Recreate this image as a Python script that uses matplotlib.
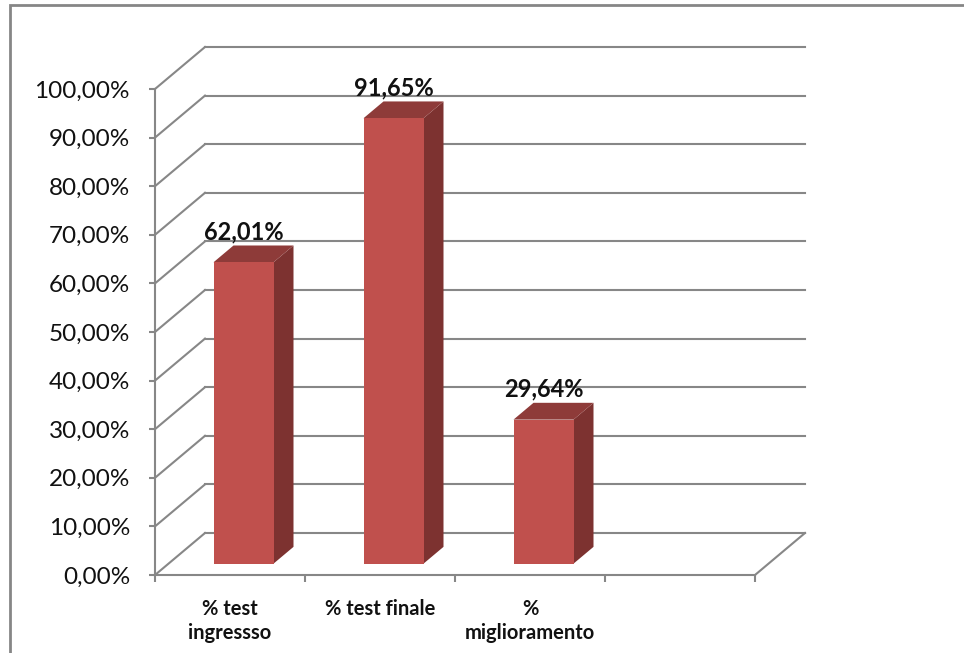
import numpy as np
import matplotlib.pyplot as plt
from matplotlib.patches import Polygon, Rectangle
from matplotlib.ticker import FuncFormatter

plt.rcParams['font.family'] = ['Lato', 'DejaVu Sans']

categories = ["% test\ningressso", "% test finale", "%\nmiglioramento"]
values = [62.01, 91.65, 29.64]
value_labels = ["62,01%", "91,65%", "29,64%"]
yticks = np.arange(0, 101, 10)
n_slots = 4  # excel kept an empty fourth slot

# fake 3d: offset of the back wall in data units
DX = 50 / 150.0
DY = 42 / 4.86
Z0, Z1 = 0.27, 0.67
BW = 0.4
GRID = '#878787'

fig = plt.figure(figsize=(9.64, 6.53), dpi=100)
ax = fig.add_axes([155 / 964, 78 / 653, 600 / 964, 486 / 653])
ax.set_xlim(0, n_slots)
ax.set_ylim(0, 100)

def pt(x, y, z):
    return (x + z * DX, y + z * DY)

# back wall gridlines and left wall diagonals
for v in yticks:
    ax.plot([pt(0, v, 1)[0], pt(n_slots, v, 1)[0]], [pt(0, v, 1)[1]] * 2,
            color=GRID, lw=1.5, clip_on=False, zorder=1)
    ax.plot([0, DX], [v, v + DY], color=GRID, lw=1.5, clip_on=False, zorder=1)
# floor right edge
ax.plot([n_slots, n_slots + DX], [0, DY], color=GRID, lw=1.5, clip_on=False, zorder=1)

# bars
for i, v in enumerate(values):
    x0 = i + 0.5 - BW / 2
    x1 = x0 + BW
    front = [pt(x0, 0, Z0), pt(x1, 0, Z0), pt(x1, v, Z0), pt(x0, v, Z0)]
    side = [pt(x1, 0, Z0), pt(x1, 0, Z1), pt(x1, v, Z1), pt(x1, v, Z0)]
    top = [pt(x0, v, Z0), pt(x1, v, Z0), pt(x1, v, Z1), pt(x0, v, Z1)]
    ax.add_patch(Polygon(side, closed=True, fc='#7D3230', ec='none', clip_on=False, zorder=3))
    ax.add_patch(Polygon(top, closed=True, fc='#8E3B39', ec='none', clip_on=False, zorder=3))
    ax.add_patch(Polygon(front, closed=True, fc='#C0504D', ec='none', clip_on=False, zorder=4))
    cx = pt((x0 + x1) / 2, v, Z1)
    ax.text(pt((x0 + x1) / 2, v, Z0)[0], cx[1] + 0.4, value_labels[i],
            ha='center', va='bottom', fontsize=17, fontweight='bold', color='#111111', zorder=5)

# axes styling
for s in ['top', 'right']:
    ax.spines[s].set_visible(False)
for s in ['left', 'bottom']:
    ax.spines[s].set_color(GRID)
    ax.spines[s].set_linewidth(1.5)
ax.set_yticks(yticks)
ax.yaxis.set_major_formatter(FuncFormatter(lambda v, p: ("%.2f%%" % v).replace('.', ',')))
ax.tick_params(axis='y', length=4, width=1.5, color=GRID, pad=14, labelsize=17.5, labelcolor='#111111')
ax.set_xticks(np.arange(n_slots + 1))
ax.set_xticklabels([])
ax.set_xticks(np.arange(len(categories)) + 0.5, minor=True)
ax.set_xticklabels(categories, minor=True, fontweight='bold', fontsize=14.5, linespacing=1.3)
ax.tick_params(axis='x', which='major', length=5, width=1.5, color=GRID)
ax.tick_params(axis='x', which='minor', length=0, pad=17, labelcolor='#111111')
ax.patch.set_alpha(0)

# chart frame (right/bottom edges lie outside the picture)
fig.patches.append(Rectangle((10 / 964, -0.1), 1.0, 1.1 - 5 / 653, transform=fig.transFigure,
                             fill=False, ec='#868686', lw=2))

fig.savefig('out.png', dpi=100)
